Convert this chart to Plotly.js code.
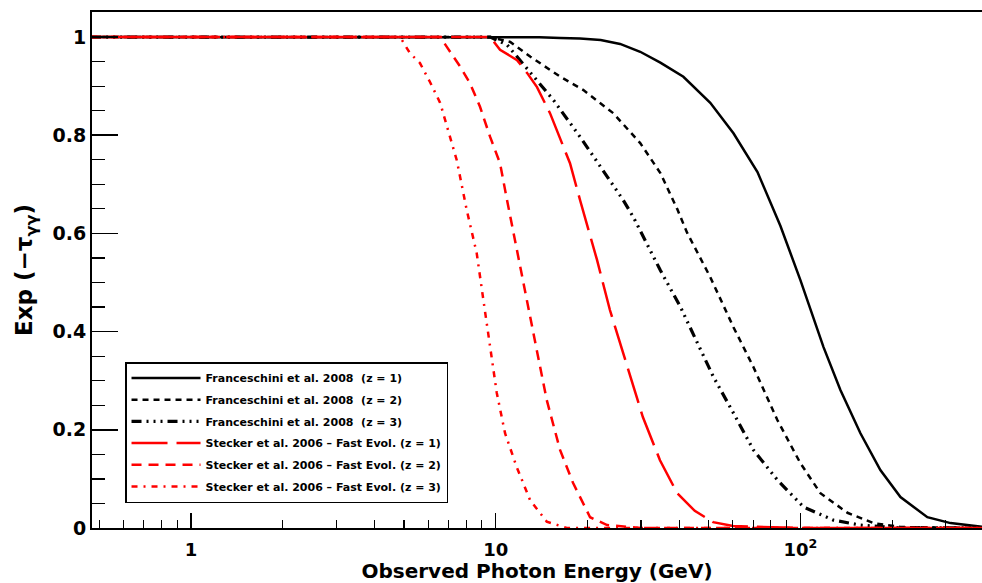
<!DOCTYPE html>
<html>
<head>
<meta charset="utf-8">
<script src="https://cdn.plot.ly/plotly-3.0.1.min.js"></script>
<style>html,body{margin:0;padding:0;background:#fff;}#chart{width:982px;height:583px;}</style>
</head>
<body>
<div id="chart"></div>
<script>
// ---- data (energy in GeV, value = exp(-tau)) ----
const franz1_E = [0.47, 12, 13.9, 16.3, 18.9, 22.1, 25.6, 29.8, 34.7, 41.3, 50.6, 60.3, 72.3, 86.0, 100, 119, 135.3, 157.4, 183, 213, 261, 311, 400];
const franz1_T = [1, 1, 0.9995, 0.998, 0.997, 0.994, 0.986, 0.970, 0.948, 0.919, 0.866, 0.804, 0.725, 0.615, 0.505, 0.369, 0.281, 0.193, 0.118, 0.063, 0.022, 0.010, 0.002];

const franz2_E = [0.47, 9.6, 11.16, 13.0, 16.3, 19.4, 24.3, 29.8, 34.7, 39.4, 42.5, 50.6, 60.3, 70.1, 84.0, 100, 116.3, 142.7, 173.6, 213, 400];
const franz2_T = [1, 1, 0.990, 0.960, 0.919, 0.892, 0.845, 0.784, 0.723, 0.650, 0.601, 0.511, 0.409, 0.328, 0.220, 0.132, 0.071, 0.031, 0.010, 0.002, 0];

const franz3_E = [0.47, 9.6, 10.9, 13.0, 15.45, 18.95, 22.1, 26.2, 28.3, 34.7, 40.4, 45.9, 51.8, 60.3, 70.1, 84.0, 102.3, 128.3, 157, 200, 400];
const franz3_T = [1, 1, 0.984, 0.927, 0.872, 0.796, 0.735, 0.668, 0.633, 0.525, 0.450, 0.377, 0.308, 0.234, 0.159, 0.098, 0.043, 0.016, 0.006, 0.001, 0];

const steck1_E = [0.47, 9.58, 10.33, 11.75, 12.67, 13.66, 15.07, 17.53, 18.91, 21.5, 23.7, 27.0, 30.4, 34.6, 39.4, 45, 51.7, 60.1, 100, 400];
const steck1_T = [1, 1, 0.974, 0.953, 0.927, 0.898, 0.845, 0.743, 0.668, 0.546, 0.444, 0.328, 0.226, 0.138, 0.071, 0.035, 0.012, 0.004, 0, 0];

const steck2_E = [0.47, 6.57, 6.91, 7.64, 8.23, 8.88, 9.58, 10.33, 10.89, 11.72, 12.64, 13.63, 14.70, 16.26, 17.93, 20.4, 23.2, 30, 400];
const steck2_T = [1, 1, 0.980, 0.940, 0.906, 0.858, 0.797, 0.743, 0.668, 0.566, 0.464, 0.363, 0.261, 0.159, 0.092, 0.022, 0.006, 0, 0];

const steck3_E = [0.47, 4.78, 4.92, 5.23, 5.64, 6.09, 6.57, 7.08, 7.45, 8.03, 8.66, 9.11, 9.58, 10.08, 10.73, 11.72, 12.96, 14.70, 17.1, 400];
const steck3_T = [1, 1, 0.994, 0.967, 0.947, 0.908, 0.866, 0.796, 0.749, 0.648, 0.560, 0.464, 0.369, 0.275, 0.193, 0.124, 0.057, 0.013, 0, 0];

const seriesNames = [
  "Franceschini et al. 2008\u00a0\u00a0(z = 1)",
  "Franceschini et al. 2008\u00a0\u00a0(z = 2)",
  "Franceschini et al. 2008\u00a0\u00a0(z = 3)",
  "Stecker et al. 2006 \u2013 Fast Evol. (z = 1)",
  "Stecker et al. 2006 \u2013 Fast Evol. (z = 2)",
  "Stecker et al. 2006 \u2013 Fast Evol. (z = 3)"
];

const xTickVals = [1, 10, 100];
const xTickText = ["1", "10", "10<sup>2</sup>"];
const yTickVals = [0, 0.2, 0.4, 0.6, 0.8, 1];
const yTickText = ["0", "0.2", "0.4", "0.6", "0.8", "1"];

const xTitle = "Observed Photon Energy (GeV)";
const yTitle = "Exp (\u2212\u03c4<sub>\u03b3\u03b3</sub>)";

// ---- styling ----
const styles = [
  {color: "#000000", width: 2.5, dash: "solid"},
  {color: "#000000", width: 2.5, dash: "6px,5px"},
  {color: "#000000", width: 3.2, dash: "10px,5px,2px,5px,2px,5px,2px,5px"},
  {color: "#ff0000", width: 2.5, dash: "36px,9px"},
  {color: "#ff0000", width: 2.5, dash: "10px,7px"},
  {color: "#ff0000", width: 2.5, dash: "6px,6px,2px,6px"}
];
const xs = [franz1_E, franz2_E, franz3_E, steck1_E, steck2_E, steck3_E];
const ys = [franz1_T, franz2_T, franz3_T, steck1_T, steck2_T, steck3_T];

const traces = xs.map((x, i) => ({
  type: "scatter",
  mode: "lines",
  x: x,
  y: ys[i],
  name: seriesNames[i],
  legendgroup: "g" + i,
  line: {color: styles[i].color, width: styles[i].width, dash: styles[i].dash, shape: "linear"},
  hoverinfo: "skip"
}));

const minorX = [];
[0.1, 1, 10, 100].forEach(d => { for (let k = 2; k <= 9; k++) minorX.push(k * d); });

const FONT = "DejaVu Sans, Liberation Sans, Arial, sans-serif";

const layout = {
  width: 982,
  height: 583,
  margin: {l: 92, r: 0, t: 12, b: 55},
  paper_bgcolor: "#ffffff",
  plot_bgcolor: "#ffffff",
  showlegend: true,
  font: {family: FONT, color: "#000"},
  xaxis: {
    type: "log",
    range: [Math.log10(0.473), Math.log10(394.5)],
    showgrid: false,
    zeroline: false,
    showline: true,
    linecolor: "#000",
    linewidth: 2,
    mirror: true,
    ticks: "inside",
    ticklen: 15,
    tickwidth: 1.5,
    tickcolor: "#000",
    tickmode: "array",
    tickvals: xTickVals,
    ticktext: xTickText,
    tickfont: {family: FONT, size: 18, weight: "bold", color: "#000"},
    ticklabelstandoff: 4,
    minor: {tickmode: "array", tickvals: minorX, ticks: "inside", ticklen: 8, tickwidth: 1.2, tickcolor: "#000", showgrid: false},
    title: {text: xTitle, font: {family: FONT, size: 20, weight: "bold", color: "#000"}, standoff: 4}
  },
  yaxis: {
    range: [0, 1.051],
    showgrid: false,
    zeroline: false,
    showline: true,
    linecolor: "#000",
    linewidth: 2,
    mirror: false,
    ticks: "inside",
    ticklen: 26,
    tickwidth: 1.5,
    tickcolor: "#000",
    tickmode: "array",
    tickvals: yTickVals,
    ticktext: yTickText,
    tickfont: {family: FONT, size: 19, weight: "bold", color: "#000"},
    ticklabelstandoff: 0,
    minor: {dtick: 0.05, tick0: 0, ticks: "inside", ticklen: 13, tickwidth: 1.2, tickcolor: "#000", showgrid: false},
    title: {text: yTitle, font: {family: FONT, size: 23, weight: "bold", color: "#000"}, standoff: 13}
  },
  legend: {
    x: 0.0371,
    y: 0.3217,
    xanchor: "left",
    yanchor: "top",
    bgcolor: "#ffffff",
    bordercolor: "#000",
    borderwidth: 1.5,
    tracegroupgap: 2.7,
    itemwidth: 69,
    font: {family: FONT, size: 11, weight: "bold", color: "#000"}
  }
};

Plotly.newPlot("chart", traces, layout, {staticPlot: true, displayModeBar: false});
</script>
</body>
</html>
